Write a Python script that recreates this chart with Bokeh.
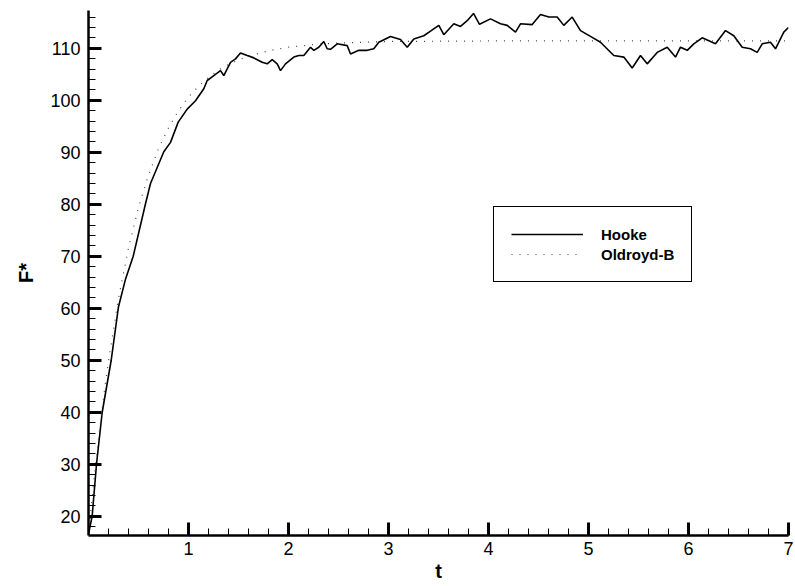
from bokeh.plotting import figure
from bokeh.models import Range1d, FixedTicker, Legend, LegendItem
from bokeh.embed import file_html
from bokeh.resources import INLINE

# Hooke dumbbell simulation: time and dimensionless force
hooke_t = [0.000, 0.037, 0.080, 0.137, 0.227, 0.300, 0.370, 0.447, 0.570, 0.620,
           0.753, 0.820, 0.897, 0.987, 1.070, 1.153, 1.187, 1.253, 1.320, 1.353,
           1.420, 1.470, 1.520, 1.587, 1.653, 1.737, 1.787, 1.837, 1.887, 1.920,
           1.970, 2.053, 2.103, 2.153, 2.220, 2.253, 2.303, 2.353, 2.387, 2.420,
           2.487, 2.587, 2.620, 2.703, 2.787, 2.853, 2.903, 3.020, 3.120, 3.187,
           3.253, 3.353, 3.420, 3.503, 3.553, 3.653, 3.720, 3.787, 3.850, 3.910,
           4.020, 4.120, 4.187, 4.270, 4.320, 4.437, 4.520, 4.603, 4.687, 4.753,
           4.837, 4.920, 5.037, 5.120, 5.253, 5.353, 5.437, 5.520, 5.587, 5.687,
           5.787, 5.870, 5.920, 5.987, 6.053, 6.137, 6.270, 6.370, 6.453, 6.537,
           6.620, 6.687, 6.737, 6.820, 6.870, 6.953, 7.000]
hooke_f = [16.5, 20.1, 30.0, 40.0, 50.0, 60.3, 65.6, 70.0, 80.1, 84.0,
           90.1, 91.9, 95.8, 98.3, 99.9, 102.2, 103.8, 104.75, 105.7, 104.75,
           107.3, 107.96, 109.1, 108.6, 108.15, 107.3, 107.0, 107.8, 107.0, 105.7,
           107.0, 108.3, 108.6, 108.6, 110.2, 109.6, 110.2, 111.3, 109.9, 109.8,
           110.85, 110.5, 108.9, 109.6, 109.6, 109.9, 111.15, 112.25, 111.7, 110.2,
           111.8, 112.4, 113.3, 114.4, 112.6, 114.7, 114.2, 115.3, 116.7, 114.6,
           115.65, 114.7, 114.4, 113.1, 114.7, 114.55, 116.5, 116.0, 116.0, 114.4,
           116.0, 113.4, 112.1, 111.15, 108.6, 108.3, 106.2, 108.6, 107.0, 109.2,
           110.2, 108.3, 110.2, 109.6, 110.85, 112.0, 110.85, 113.4, 112.4, 110.2,
           109.9, 109.2, 110.85, 111.15, 109.9, 113.1, 114.0]

# Oldroyd-B continuum solution
oldroyd_t = [0.0, 0.05, 0.1, 0.15, 0.2, 0.3, 0.4, 0.5, 0.6, 0.7, 0.8, 0.9, 1.0,
             1.1, 1.2, 1.3, 1.4, 1.5, 1.6, 1.8, 2.0, 2.25, 2.5, 3.0, 4.0, 5.0, 6.0, 7.0]
oldroyd_f = [16.4, 26.2, 34.9, 42.8, 49.9, 61.9, 71.6, 79.4, 85.6, 90.7, 94.7, 98.0, 100.6,
             102.7, 104.4, 105.8, 106.9, 107.75, 108.5, 109.5, 110.2, 110.7, 111.0, 111.3,
             111.4, 111.4, 111.4, 111.4]

# axis ticks
x_major = [1, 2, 3, 4, 5, 6, 7]
x_minor = [round(0.2 * i, 1) for i in range(1, 36)]
y_major = [20, 30, 40, 50, 60, 70, 80, 90, 100, 110]
y_minor = list(range(18, 118, 2))

FONT = "Liberation Sans"

p = figure(width=795, height=586, x_range=Range1d(0, 7), y_range=Range1d(16.3, 117.26),
           output_backend="svg", toolbar_location=None,
           min_border_left=88, min_border_right=7, min_border_top=10, min_border_bottom=51)
p.xgrid.visible = False
p.ygrid.visible = False
p.outline_line_color = None
p.background_fill_color = "white"
p.border_fill_color = "white"

p.xaxis.ticker = FixedTicker(ticks=x_major, minor_ticks=x_minor)
p.yaxis.ticker = FixedTicker(ticks=y_major, minor_ticks=y_minor)
p.xaxis.axis_label = "t"
p.yaxis.axis_label = "F*"

for ax in (p.xaxis, p.yaxis):
    ax.axis_line_width = 2.5
    ax.axis_line_color = "black"
    ax.major_tick_in = 13
    ax.major_tick_out = 0
    ax.minor_tick_in = 7
    ax.minor_tick_out = 0
    ax.major_tick_line_width = 3
    ax.minor_tick_line_width = 1
    ax.major_tick_line_color = "black"
    ax.minor_tick_line_color = "black"
    ax.major_label_text_font = FONT
    ax.major_label_text_font_size = "18px"
    ax.major_label_text_color = "black"
    ax.axis_label_text_font = FONT
    ax.axis_label_text_font_style = "bold"
    ax.axis_label_text_font_size = "20px"
    ax.axis_label_text_color = "black"

p.xaxis.major_label_standoff = 6
p.xaxis.axis_label_standoff = 2
p.yaxis.major_label_standoff = 8
p.yaxis.axis_label_standoff = 10

r_hooke = p.line(hooke_t, hooke_f, line_color="black", line_width=1.6)
r_old = p.line(oldroyd_t, oldroyd_f, line_color="#444444", line_width=1.2, line_dash="1 7")

legend = Legend(items=[LegendItem(label="Hooke", renderers=[r_hooke]),
                       LegendItem(label="Oldroyd-B", renderers=[r_old])],
                location=(405, 253), orientation="vertical")
legend.border_line_color = "black"
legend.border_line_width = 1
legend.border_line_alpha = 1
legend.background_fill_alpha = 1
legend.padding = 17
legend.spacing = 0
legend.margin = 0
legend.glyph_width = 72
legend.glyph_height = 20
legend.label_height = 20
legend.label_standoff = 18
legend.label_text_font = FONT
legend.label_text_font_style = "bold"
legend.label_text_font_size = "15px"
legend.label_text_color = "black"
p.add_layout(legend)

open("out.html", "w").write(file_html(p, INLINE))
